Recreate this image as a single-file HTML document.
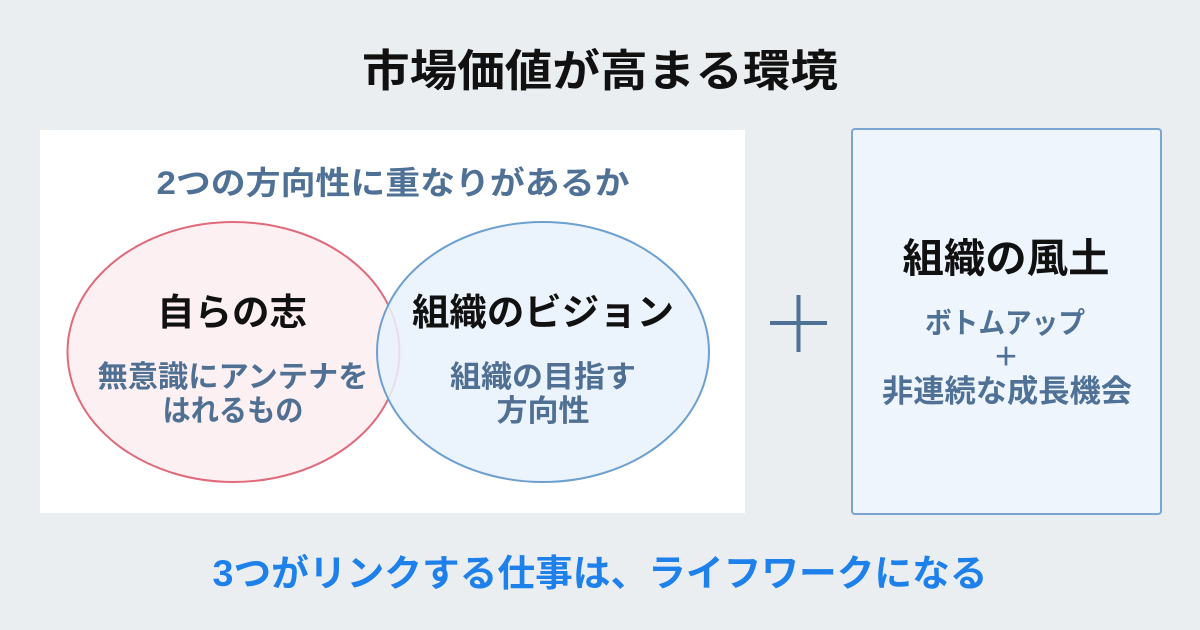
<!DOCTYPE html>
<html><head><meta charset="utf-8"><style>
html,body{margin:0;padding:0;background:#ebeef0;}
svg{display:block;}
text{font-family:"Liberation Sans","Noto Sans CJK JP",sans-serif;font-weight:bold;text-anchor:middle;}
</style></head><body>
<svg width="1200" height="630" viewBox="0 0 1200 630" xmlns="http://www.w3.org/2000/svg">
<rect width="1200" height="630" fill="#ebeef0"/>
<text x="600" y="86" font-size="44" fill="#111" textLength="476" lengthAdjust="spacingAndGlyphs">市場価値が高まる環境</text>
<rect x="40" y="130" width="705" height="383" fill="#fff"/>
<text x="393" y="194" font-size="32" fill="#4f7196" textLength="473" lengthAdjust="spacingAndGlyphs">2つの方向性に重なりがあるか</text>
<ellipse cx="233.5" cy="352" rx="166" ry="130" fill="#fdf0f2" stroke="#e06a7a" stroke-width="2"/>
<ellipse cx="543" cy="352" rx="166" ry="130" fill="rgba(232,242,253,0.85)" stroke="#6d9fcf" stroke-width="2"/>
<text x="232" y="325" font-size="37" fill="#111" textLength="150" lengthAdjust="spacingAndGlyphs">自らの志</text>
<text x="233" y="387" font-size="30" fill="#4f6f93" textLength="271" lengthAdjust="spacingAndGlyphs">無意識にアンテナを</text>
<text x="233" y="421" font-size="30" fill="#4f6f93" textLength="141" lengthAdjust="spacingAndGlyphs">はれるもの</text>
<text x="543" y="325" font-size="37" fill="#111" textLength="262" lengthAdjust="spacingAndGlyphs">組織のビジョン</text>
<text x="543" y="387" font-size="30" fill="#4f6f93" textLength="186" lengthAdjust="spacingAndGlyphs">組織の目指す</text>
<text x="543" y="421" font-size="30" fill="#4f6f93" textLength="93" lengthAdjust="spacingAndGlyphs">方向性</text>
<g stroke="#4f7196" stroke-width="4">
<line x1="770" y1="323" x2="827" y2="323"/>
<line x1="798.5" y1="295" x2="798.5" y2="352"/>
</g>
<rect x="852" y="129" width="309" height="385" rx="3" fill="#eef5fd" stroke="#7aa5d0" stroke-width="2"/>
<text x="1006" y="272" font-size="40" fill="#111" textLength="207" lengthAdjust="spacingAndGlyphs">組織の風土</text>
<text x="1005" y="333" font-size="29" fill="#4f7196" textLength="160" lengthAdjust="spacingAndGlyphs">ボトムアップ</text>
<text x="1006" y="366" font-size="26" fill="#4f7196" font-weight="normal">＋</text>
<text x="1007" y="402" font-size="31" fill="#4f7196" textLength="250" lengthAdjust="spacingAndGlyphs">非連続な成長機会</text>
<text x="600" y="586" font-size="37" fill="#1e80ea" textLength="775" lengthAdjust="spacingAndGlyphs">3つがリンクする仕事は、ライフワークになる</text>
</svg>
</body></html>
